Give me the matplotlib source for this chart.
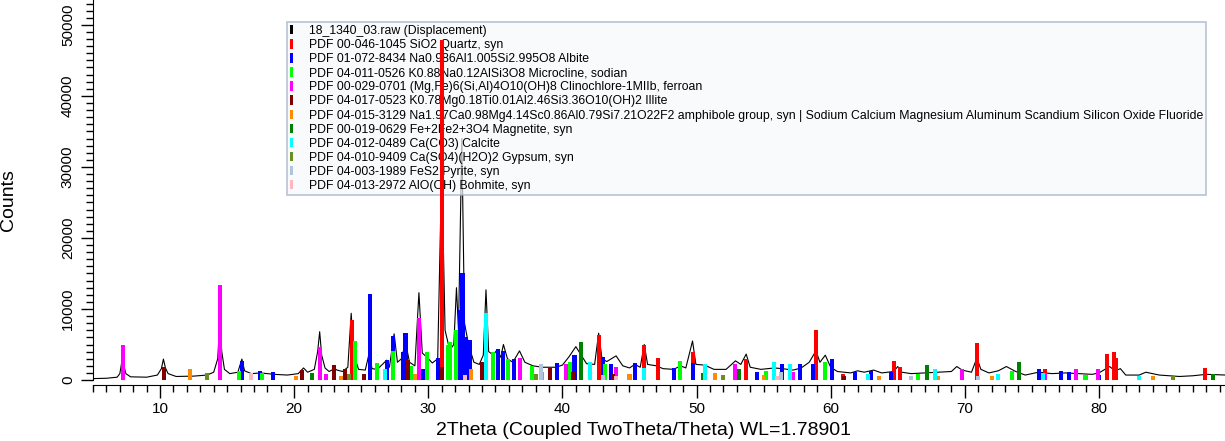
import matplotlib
matplotlib.use("Agg")
from matplotlib import pyplot as plt
from matplotlib.patches import Patch
from matplotlib.ticker import MultipleLocator

plt.rcParams["font.family"] = ["Liberation Sans", "DejaVu Sans"]

# measured scan, 2theta vs counts
scan_2theta = [5.0, 6.0, 6.8, 7.0, 7.1, 7.2, 7.3, 7.45, 7.8, 9.0, 9.8, 10.1, 10.25, 10.4, 10.6,
               11.2, 12.5, 13.5, 14.0, 14.3, 14.45, 14.6, 14.8, 15.2, 15.8, 16.1, 16.3, 16.8,
               17.5, 18.5, 19.5, 20.3, 20.7, 21.0, 21.5, 21.75, 21.9, 22.05, 22.3, 22.6, 23.0,
               23.2, 23.6, 24.0, 24.25, 24.45, 24.8, 25.3, 25.6, 25.8, 26.2, 26.9, 27.1, 27.45,
               27.7, 28.0, 28.3, 28.6, 29.0, 29.3, 29.55, 29.9, 30.3, 30.7, 31.0, 31.25, 31.6,
               31.9, 32.1, 32.25, 32.5, 32.7, 33.0, 33.4, 33.8, 34.1, 34.3, 34.5, 34.85, 35.1,
               35.4, 35.6, 35.9, 36.3, 36.8, 37.2, 37.8, 38.5, 39.5, 40.0, 40.5, 41.0, 41.3,
               41.8, 42.4, 42.7, 42.95, 43.3, 44.0, 44.5, 45.0, 45.4, 45.8, 46.1, 46.35, 47.0,
               47.5, 48.3, 48.8, 49.2, 49.7, 49.95, 50.6, 51.3, 52.2, 52.9, 53.3, 53.7, 54.0,
               54.8, 55.8, 56.4, 57.2, 57.8, 58.4, 58.9, 59.2, 59.6, 60.0, 60.5, 61.5, 62.0,
               62.5, 63.2, 63.8, 64.7, 65.0, 65.3, 66.0, 67.0, 68.0, 69.0, 69.4, 69.8, 70.5,
               70.9, 71.2, 71.8, 72.5, 73.1, 73.8, 74.5, 75.5, 76.5, 77.5, 78.5, 79.5, 80.0,
               80.8, 81.2, 81.6, 82.0, 83.0, 83.5, 84.5, 86.0, 87.0, 88.0, 89.5]
scan_counts = [200, 250, 400, 900, 2000, 3300, 2000, 900, 450, 400, 700, 1600, 2950, 1700, 900,
               500, 550, 700, 1100, 3000, 8200, 4000, 1500, 900, 1100, 2950, 1300, 900,
               1000, 800, 700, 900, 1700, 1100, 1500, 4000, 6800, 3500, 1700, 1200, 1600,
               1400, 1200, 1800, 9400, 3500, 1500, 1400, 3850, 1600, 1500, 2800, 1800, 6500,
               2500, 3000, 5300, 2500, 2000, 12300, 3800, 3200, 2400, 3000, 30000, 7000, 4200,
               5000, 13000, 7000, 34000, 8000, 5000, 2500, 2200, 3500, 12700, 4000, 3500, 4200,
               3200, 5000, 3000, 2500, 4100, 2500, 2000, 1800, 1800, 2100, 3300, 4700, 3800,
               2300, 2200, 6600, 3000, 2600, 3400, 2000, 1700, 2200, 1800, 5000, 2200, 2000,
               1600, 1500, 2000, 1700, 5500, 2200, 2100, 1500, 1500, 2700, 2200, 3650, 1800,
               1500, 1700, 1600, 1400, 1700, 2500, 4100, 2500, 3500, 1800, 1200, 1000, 1300,
               1100, 1400, 1000, 1200, 1900, 1100, 900, 1000, 1100, 1200, 1900, 1400, 1100,
               3100, 1500, 1000, 1300, 1900, 1200, 700, 1100, 900, 1000, 900, 800, 1000,
               1900, 1300, 1600, 700, 700, 1100, 700, 500, 600, 800, 700]

scan_label = "18_1340_03.raw (Displacement)"

# reference patterns: name, colour, stick positions, stick heights
quartz_name = "PDF 00-046-1045 SiO2 Quartz, syn"
quartz_pos = [24.3, 31.0, 42.7, 46.1, 47.1, 49.7, 53.7, 58.9, 60.9, 64.7, 65.2, 70.9, 76.0, 80.6, 81.1, 81.3, 87.9]
quartz_int = [8400, 47900, 6400, 5000, 3050, 3900, 2900, 7000, 800, 2700, 1900, 5200, 1500, 3700, 4000, 3100, 1700]

albite_name = "PDF 01-072-8434 Na0.986Al1.005Si2.995O8 Albite"
albite_pos = [16.1, 17.45, 18.45, 25.66, 26.9, 27.4, 28.1, 28.3, 29.6, 30.7, 32.4, 32.55, 32.8, 33.1,
              35.17, 35.6, 36.4, 39.6, 40.9, 43.0, 43.6, 45.4, 48.3, 49.75, 54.5, 56.4, 57.7, 58.7,
              60.1, 61.8, 63.0, 64.5, 75.5, 77.2, 77.8, 80.0]
albite_int = [2700, 1300, 1200, 12100, 2800, 6200, 4000, 6600, 1600, 3100, 9900, 15000, 6100, 5600,
              4350, 4100, 2900, 2450, 3500, 3300, 2200, 2450, 1700, 2400, 1200, 2300, 2200, 2300,
              2900, 1100, 1300, 1200, 1600, 1300, 1200, 700]

microcline_name = "PDF 04-011-0526 K0.88Na0.12AlSi3O8 Microcline, sodian"
microcline_pos = [15.87, 17.6, 21.3, 24.5, 26.2, 27.4, 28.7, 29.9, 31.5, 31.6, 32.1, 34.85, 35.97,
                  37.7, 40.6, 43.2, 48.8, 55.2, 59.6, 66.5, 73.5, 79.0]
microcline_int = [1300, 1000, 900, 5500, 2350, 4100, 2000, 4000, 4900, 5400, 7000, 4000, 2900,
                  2000, 2600, 2300, 2650, 1300, 2600, 800, 1300, 700]

clinochlore_name = "PDF 00-029-0701 (Mg,Fe)6(Si,Al)4O10(OH)8 Clinochlore-1MIIb, ferroan"
clinochlore_pos = [7.25, 14.5, 21.95, 22.35, 29.3, 36.8, 40.3, 44.0, 52.9, 57.2, 69.8, 76.0, 78.3, 79.9]
clinochlore_int = [5000, 13400, 4700, 900, 8800, 3050, 2250, 1800, 2250, 1200, 1600, 1000, 1600, 1500]

illite_name = "PDF 04-017-0523 K0.78Mg0.18Ti0.01Al2.46Si3.36O10(OH)2 Illite"
illite_pos = [10.3, 20.6, 23.0, 23.8, 25.2, 28.47, 31.0, 34.0, 39.1, 40.8, 43.8, 61.0]
illite_int = [1800, 1400, 2100, 1600, 900, 2800, 1900, 2600, 1700, 1200, 800, 600]

amphibole_name = ("PDF 04-015-3129 Na1.97Ca0.98Mg4.14Sc0.86Al0.79Si7.21O22F2 amphibole group, syn | "
                  "Sodium Calcium Magnesium Aluminum Scandium Silicon Oxide Fluoride")
amphibole_pos = [12.2, 20.1, 23.5, 29.0, 33.2, 38.5, 45.0, 51.4, 55.0, 63.6, 68.0, 72.0, 84.0]
amphibole_int = [1500, 600, 600, 900, 1600, 1200, 900, 1000, 700, 600, 600, 500, 500]

magnetite_name = "PDF 00-019-0629 Fe+2Fe2+3O4 Magnetite, syn"
magnetite_pos = [21.3, 41.4, 50.5, 53.2, 67.2, 74.05, 88.5]
magnetite_int = [1000, 5300, 1000, 1500, 2100, 2500, 900]

calcite_name = "PDF 04-012-0489 Ca(CO3) Calcite"
calcite_pos = [26.8, 34.3, 42.07, 46.1, 50.6, 55.8, 57.0, 62.8, 67.8, 72.5, 75.8, 83.0]
calcite_int = [1500, 9400, 2600, 1700, 2300, 2600, 2300, 900, 1600, 800, 1000, 600]

gypsum_name = "PDF 04-010-9409 Ca(SO4)(H2O)2 Gypsum, syn"
gypsum_pos = [13.5, 24.1, 38.0, 52.0, 66.0, 85.5]
gypsum_int = [1000, 900, 800, 700, 600, 600]

pyrite_name = "PDF 04-003-1989 FeS2 Pyrite, syn"
pyrite_pos = [38.4, 43.0, 56.3, 66.0, 71.0]
pyrite_int = [2300, 700, 1200, 500, 600]

bohmite_name = "PDF 04-013-2972 AlO(OH) Bohmite, syn"
bohmite_pos = [16.8, 32.7, 44.0, 56.0]
bohmite_int = [1000, 700, 600, 500]

phases = [
    (quartz_name, "#ff0000", quartz_pos, quartz_int),
    (albite_name, "#0000ff", albite_pos, albite_int),
    (microcline_name, "#00ff00", microcline_pos, microcline_int),
    (clinochlore_name, "#ff00ff", clinochlore_pos, clinochlore_int),
    (illite_name, "#800000", illite_pos, illite_int),
    (amphibole_name, "#ff8c00", amphibole_pos, amphibole_int),
    (magnetite_name, "#008000", magnetite_pos, magnetite_int),
    (calcite_name, "#00ffff", calcite_pos, calcite_int),
    (gypsum_name, "#6b8e23", gypsum_pos, gypsum_int),
    (pyrite_name, "#b0c4de", pyrite_pos, pyrite_int),
    (bohmite_name, "#ffb6c1", bohmite_pos, bohmite_int),
]

fig = plt.figure(figsize=(12.25, 4.41), dpi=100)
ax = fig.add_axes([93 / 1225, 56 / 441, 1132 / 1225, 385 / 441])

ax.plot(scan_2theta, scan_counts, color="black", linewidth=0.8, zorder=1)

handles = [Patch(facecolor="black", edgecolor="none", label=scan_label)]
for name, col, pos, hgt in phases:
    ax.bar(pos, hgt, width=0.3, color=col, linewidth=0, zorder=3)
    handles.append(Patch(facecolor=col, edgecolor="none", label=name))

ax.set_xlim(5, 89.4)
ax.set_ylim(-700, 53500)

ax.spines["top"].set_visible(False)
ax.spines["right"].set_visible(False)
ax.spines["left"].set_bounds(0, 53500)

ax.xaxis.set_major_locator(MultipleLocator(10))
ax.xaxis.set_minor_locator(MultipleLocator(1))
ax.yaxis.set_major_locator(MultipleLocator(10000))
ax.yaxis.set_minor_locator(MultipleLocator(1000))
ax.tick_params(axis="both", which="major", length=9, width=1, labelsize=11)
ax.tick_params(axis="both", which="minor", length=5, width=1)
ax.tick_params(axis="y", which="major", pad=4)
plt.setp(ax.get_yticklabels(), rotation=90, va="center")

ax.set_ylabel("Counts", fontsize=14)
ax.yaxis.set_label_coords(-0.067, 0.48)
ax.set_xlabel("2Theta (Coupled TwoTheta/Theta) WL=1.78901", fontsize=14)
ax.xaxis.set_label_coords(0.486, -0.095)

leg = ax.legend(handles=handles, loc="upper left", bbox_to_anchor=(0.171, 0.943),
                fontsize=8.85, handlelength=0.3, handleheight=0.8, handletextpad=1.25,
                labelspacing=0.17, borderpad=0.25, borderaxespad=0, fancybox=False,
                framealpha=0.7, facecolor="#f6f8fb", edgecolor="#9aabc4")
leg.get_frame().set_linewidth(1.2)
leg.set_zorder(2)

fig.savefig("out.png", dpi=100)
